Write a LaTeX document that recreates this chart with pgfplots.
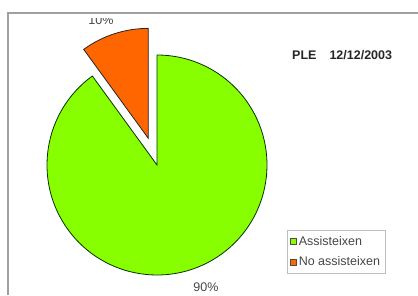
\documentclass[border=0pt]{standalone}
\usepackage{pgfplots}
\usepackage{pgfplotstable}
\pgfplotsset{compat=1.18}
\usetikzlibrary{calc}
\usepackage{fontspec}
\setmainfont{Liberation Sans}
\definecolor{pgreen}{RGB}{136,255,0}
\definecolor{porange}{RGB}{255,102,0}
\definecolor{framegray}{RGB}{160,160,160}
\definecolor{legframe}{RGB}{190,190,190}
\definecolor{txt}{RGB}{70,70,70}

\pgfplotstableread{
label value
Assisteixen 90
NoAssisteixen 10
}\piedata

\begin{document}
\begin{tikzpicture}
\pgfplotstablegetelem{0}{value}\of\piedata \edef\va{\pgfplotsretval}
\pgfplotstablegetelem{1}{value}\of\piedata \edef\vb{\pgfplotsretval}
\pgfmathsetmacro{\angB}{90+3.6*\vb}   % end of orange slice
\pgfmathsetmacro{\angA}{\angB+3.6*\va} % end of green slice
\pgfmathsetmacro{\midB}{(90+\angB)/2}
% frame
\draw[framegray, line width=2pt] (8pt,0pt) -- (8pt,282pt) -- (418pt,282pt);
\begin{axis}[
  at={(0pt,0pt)}, anchor=south west,
  width=418pt, height=295pt, scale only axis,
  xmin=0, xmax=418, ymin=0, ymax=295,
  hide axis, clip=false,
  legend style={at={(axis cs:287,65)}, anchor=north west, draw=legframe,
    font=\fontsize{12.5}{14}\selectfont\color{txt}, inner xsep=3pt, inner ysep=4pt,
    row sep=6pt, legend cell align=left},
  legend image code/.code={\draw[#1,draw=black!70,line width=0.6pt] (0pt,-3pt) rectangle (6pt,3pt);},
]
% green slice
\fill[pgreen, draw=black!80!green, line width=0.8pt]
  (axis cs:157,130) -- ++(\angB:110pt) arc[start angle=\angB, end angle=\angA, radius=110pt] -- cycle;
% orange slice (exploded)
\fill[porange, draw=black!85, line width=0.8pt]
  ($(axis cs:157,130)+(\midB:28pt)$) -- ++(90:110pt) arc[start angle=90, end angle=\angB, radius=110pt] -- cycle;
\addlegendimage{fill=pgreen}
\addlegendentry{Assisteixen}
\addlegendimage{fill=porange}
\addlegendentry{No assisteixen}
% labels
\node[txt, font=\fontsize{12.5}{14}\selectfont] at (axis cs:206,8) {90\%};
\begin{scope}
\clip (axis cs:60,200) rectangle (axis cs:150,276);
\node[txt, font=\fontsize{12.5}{14}\selectfont, anchor=base] at (axis cs:101,270) {10\%};
\end{scope}
\node[font=\bfseries\fontsize{12.5}{14}\selectfont, text=black!85, anchor=west, inner sep=0pt] at (axis cs:292,240) {PLE\hspace{13pt}12/12/2003};
\end{axis}
\pgfresetboundingbox
\path[use as bounding box] (0pt,0pt) rectangle (418pt,295pt);
\end{tikzpicture}
\end{document}
